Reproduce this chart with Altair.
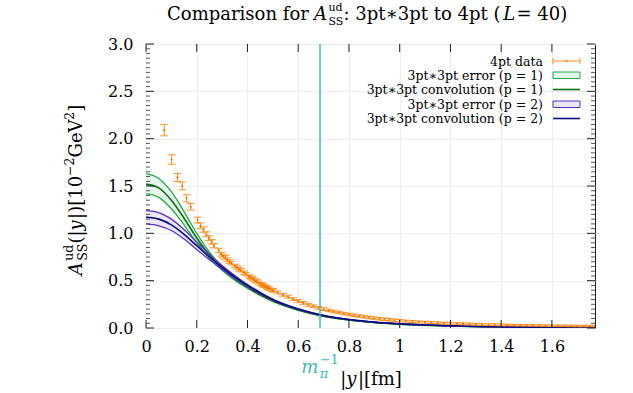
import altair as alt
import pandas as pd

FONT = "DejaVu Serif"

# 4pt data: separation |y| [fm], value [10^-2 GeV^2], statistical error
pt_x = [0.072, 0.101, 0.124, 0.143, 0.160, 0.176, 0.203, 0.215, 0.227, 0.238,
        0.248, 0.259, 0.268, 0.287, 0.296, 0.304, 0.313, 0.321, 0.329, 0.336,
        0.351, 0.359, 0.366, 0.373, 0.386, 0.393, 0.406, 0.412, 0.418, 0.424,
        0.430, 0.436, 0.442, 0.454, 0.459, 0.465, 0.470, 0.476, 0.481, 0.486,
        0.497, 0.502,
        0.52, 0.54, 0.56, 0.58, 0.60, 0.62, 0.64, 0.66, 0.68, 0.70,
        0.72, 0.74, 0.76, 0.78, 0.80, 0.82, 0.84, 0.86, 0.88, 0.90,
        0.92, 0.94, 0.96, 0.98, 1.00,
        1.025, 1.05, 1.075, 1.10, 1.125, 1.15, 1.175, 1.20, 1.225, 1.25,
        1.275, 1.30, 1.325, 1.35, 1.375, 1.40,
        1.425, 1.45, 1.475, 1.50, 1.525, 1.55, 1.575, 1.60, 1.625, 1.65,
        1.675, 1.70, 1.725, 1.75, 1.775]
pt_y = [2.09, 1.78, 1.59, 1.50, 1.37, 1.28, 1.14, 1.08, 1.04, 0.99,
        0.95, 0.91, 0.87, 0.82, 0.78, 0.76, 0.745, 0.72, 0.70, 0.685,
        0.655, 0.64, 0.62, 0.61, 0.585, 0.57, 0.545, 0.535, 0.525, 0.515,
        0.50, 0.495, 0.48, 0.465, 0.455, 0.445, 0.44, 0.43, 0.42, 0.415,
        0.40, 0.395,
        0.375, 0.35, 0.33, 0.305, 0.285, 0.265, 0.245, 0.23, 0.212, 0.20,
        0.186, 0.175, 0.164, 0.153, 0.143, 0.134, 0.126, 0.118, 0.111, 0.104,
        0.098, 0.092, 0.087, 0.082, 0.078,
        0.073, 0.069, 0.065, 0.061, 0.058, 0.055, 0.052, 0.049, 0.047, 0.044,
        0.042, 0.040, 0.038, 0.036, 0.035, 0.033,
        0.032, 0.030, 0.029, 0.028, 0.027, 0.026, 0.025, 0.024, 0.023, 0.023,
        0.022, 0.021, 0.021, 0.020, 0.020]
pt_err = [0.06, 0.05, 0.042, 0.04, 0.038, 0.035, 0.03, 0.03, 0.028, 0.026,
          0.025, 0.024, 0.023, 0.022, 0.021, 0.02, 0.02, 0.02, 0.019, 0.019,
          0.018, 0.018, 0.018, 0.017, 0.017, 0.017, 0.017, 0.016, 0.016, 0.016,
          0.016, 0.016, 0.016, 0.016, 0.016, 0.016, 0.016, 0.016, 0.016, 0.016,
          0.016, 0.016,
          0.015, 0.015, 0.015, 0.015, 0.015, 0.015, 0.015, 0.015, 0.015, 0.015,
          0.013, 0.013, 0.013, 0.013, 0.013, 0.013, 0.013, 0.013, 0.013, 0.013,
          0.013, 0.013, 0.013, 0.013, 0.013,
          0.010, 0.010, 0.010, 0.010, 0.010, 0.010, 0.010, 0.010, 0.010, 0.010,
          0.010, 0.010, 0.010, 0.010, 0.010, 0.010,
          0.008, 0.008, 0.008, 0.008, 0.008, 0.008, 0.008, 0.008, 0.008, 0.008,
          0.008, 0.008, 0.008, 0.008, 0.008]

# 3pt*3pt convolution: p = 1 and p = 2 fits (lower, central, upper)
curve_x = [0.0, 0.05, 0.10, 0.15, 0.20, 0.25, 0.30, 0.35, 0.40, 0.45, 0.50,
           0.60, 0.70, 0.80, 0.90, 1.00, 1.10, 1.20, 1.30, 1.40, 1.50, 1.60,
           1.70, 1.77]
p1_lo = [1.42, 1.38, 1.26, 1.09, 0.90, 0.74, 0.61, 0.505, 0.42, 0.343, 0.28,
         0.187, 0.123, 0.084, 0.057, 0.040, 0.029, 0.021, 0.015, 0.011, 0.008,
         0.006, 0.005, 0.004]
p1_mid = [1.52, 1.48, 1.35, 1.16, 0.95, 0.77, 0.63, 0.52, 0.43, 0.35, 0.285,
          0.19, 0.125, 0.085, 0.058, 0.041, 0.030, 0.022, 0.016, 0.012, 0.009,
          0.007, 0.005, 0.004]
p1_hi = [1.63, 1.58, 1.44, 1.23, 1.00, 0.80, 0.65, 0.535, 0.44, 0.357, 0.29,
         0.193, 0.127, 0.086, 0.059, 0.042, 0.031, 0.023, 0.017, 0.012, 0.009,
         0.007, 0.005, 0.004]
p2_lo = [1.10, 1.08, 1.03, 0.94, 0.83, 0.72, 0.62, 0.525, 0.44, 0.362, 0.295,
         0.197, 0.130, 0.089, 0.061, 0.043, 0.031, 0.022, 0.016, 0.011, 0.008,
         0.006, 0.005, 0.004]
p2_mid = [1.17, 1.15, 1.09, 0.99, 0.87, 0.75, 0.64, 0.54, 0.45, 0.37, 0.30,
          0.20, 0.132, 0.09, 0.062, 0.044, 0.032, 0.023, 0.017, 0.012, 0.009,
          0.007, 0.005, 0.004]
p2_hi = [1.24, 1.22, 1.15, 1.04, 0.91, 0.78, 0.66, 0.555, 0.46, 0.378, 0.305,
         0.203, 0.134, 0.091, 0.063, 0.045, 0.033, 0.024, 0.017, 0.012, 0.009,
         0.007, 0.005, 0.004]

m_pi_inv = 0.686  # inverse pion mass in fm

x_ticks = [0, 0.2, 0.4, 0.6, 0.8, 1, 1.2, 1.4, 1.6]
y_ticks = [0.0, 0.5, 1.0, 1.5, 2.0, 2.5, 3.0]
y_minor = [round(0.05 * i, 2) for i in range(61) if i % 10]

X_MAX, Y_MAX = 1.77, 3.0
W, H = 449, 284
LEFT, TOP = 146, 44

ORANGE = "#ff8c1a"
ORANGE_DOT = "#f07800"
GREEN_FILL = "#e5f5e9"
GREEN_EDGE = "#22aa48"
GREEN_MID = "#0f6e12"
BLUE_FILL = "#ebe6fa"
BLUE_EDGE = "#5534c4"
BLUE_MID = "#0c0c80"
CYAN = "#3cbcbc"

xs = alt.Scale(domain=[0, X_MAX], nice=False, zero=False)
ys = alt.Scale(domain=[0, Y_MAX], nice=False, zero=False)
xaxis = alt.Axis(values=x_ticks, format="~g", title=None, domain=False, ticks=False,
                 grid=True, gridColor="#ededed", labelFont=FONT, labelFontSize=16,
                 labelColor="black", labelPadding=10, labelOverlap=False, labelFlush=False)
yaxis = alt.Axis(values=y_ticks, format=".1f", title=None, domain=False, ticks=False,
                 grid=True, gridColor="#ededed", labelFont=FONT, labelFontSize=16,
                 labelColor="black", labelPadding=13, labelOverlap=False, labelFlush=False)


def X(field):
    return alt.X(field, type="quantitative", scale=xs, axis=xaxis)


def Y(field):
    return alt.Y(field, type="quantitative", scale=ys, axis=yaxis)


ONE = pd.DataFrame({"k": [0]})

# approximate advance widths (per 1000 em) of DejaVu Serif, for mixed-style text
ROMAN_W = {" ": 318, "(": 390, ")": 390, "[": 390, "]": 390, "|": 337, ".": 318,
           ":": 337, "=": 838, "−": 838, "∗": 838, "C": 731, "A": 722, "G": 777,
           "V": 722, "S": 686, "L": 654, "a": 598, "c": 564, "d": 640, "e": 592,
           "f": 370, "i": 320, "l": 320, "m": 948, "n": 643, "o": 602, "p": 640,
           "r": 479, "s": 514, "t": 402, "u": 643, "v": 564, "y": 564}
ITALIC_W = {"A": 722, "L": 654, "y": 564, "p": 640, "m": 948, "π": 600}
ITALIC_GAP = 0.08  # italic correction, in em


def text_width(s, size, italic=False):
    table = ITALIC_W if italic else ROMAN_W
    w = sum(table.get(c, ROMAN_W.get(c, 636)) for c in s) * size / 1000.0
    return w + (ITALIC_GAP * size if italic else 0.0)


def piece(t, size, italic=False, shift=0, advance=True):
    return dict(t=t, size=size, it=italic, shift=shift, adv=advance)


def rich(pieces, x, y, anchor="left", color="black", vertical=False):
    """Lay out text pieces (with sub/superscripts) starting at pixel (x, y)."""
    widths = [text_width(p["t"], p["size"], p["it"]) for p in pieces]
    total, slot = 0.0, 0.0
    for p, w in zip(pieces, widths):
        slot = max(slot, w)
        if p["adv"]:
            total += slot
            slot = 0.0
    pos = -{"left": 0.0, "center": total / 2, "right": total}[anchor]
    slot = 0.0
    out = []
    for p, w in zip(pieces, widths):
        if vertical:
            enc = dict(x=alt.value(x + p["shift"]), y=alt.value(y - pos))
        else:
            enc = dict(x=alt.value(x + pos), y=alt.value(y + p["shift"]))
        mark = alt.Chart(ONE).mark_text(
            text=p["t"], font=FONT, fontSize=p["size"],
            fontStyle="italic" if p["it"] else "normal",
            align="left", baseline="alphabetic", color=color,
            angle=270 if vertical else 0)
        out.append(mark.encode(**enc))
        slot = max(slot, w)
        if p["adv"]:
            pos += slot
            slot = 0.0
    return out


layers = []

# --- convolution bands and curves ---
cdf = pd.DataFrame(dict(x=curve_x, p1_lo=p1_lo, p1_mid=p1_mid, p1_hi=p1_hi,
                        p2_lo=p2_lo, p2_mid=p2_mid, p2_hi=p2_hi))
base = alt.Chart(cdf)
fits = [("p1_lo", "p1_mid", "p1_hi", GREEN_FILL, GREEN_EDGE, GREEN_MID),
        ("p2_lo", "p2_mid", "p2_hi", BLUE_FILL, BLUE_EDGE, BLUE_MID)]
for lo, mid, hi, fill, edge, central in fits:
    layers.append(base.mark_area(color=fill, interpolate="monotone", clip=True)
                  .encode(x=X("x"), y=Y(lo), y2=alt.Y2(hi)))
for lo, mid, hi, fill, edge, central in fits:
    for f in (lo, hi):
        layers.append(base.mark_line(color=edge, strokeWidth=1.3, interpolate="monotone", clip=True)
                      .encode(x=X("x"), y=Y(f)))
    layers.append(base.mark_line(color=central, strokeWidth=1.6, interpolate="monotone", clip=True)
                  .encode(x=X("x"), y=Y(mid)))

# --- 4pt data with error bars ---
pdf = pd.DataFrame(dict(x=pt_x, y=pt_y, err=pt_err))
pts = alt.Chart(pdf).transform_calculate(lo="datum.y - datum.err", hi="datum.y + datum.err")
layers.append(pts.mark_rule(color=ORANGE, strokeWidth=1, clip=True)
              .encode(x=X("x"), y=Y("lo:Q"), y2=alt.Y2("hi:Q")))
for f in ("lo:Q", "hi:Q"):
    layers.append(pts.mark_tick(color=ORANGE, orient="horizontal", size=8, thickness=1,
                                opacity=0.9, clip=True)
                  .encode(x=X("x"), y=Y(f)))
layers.append(pts.mark_circle(color=ORANGE_DOT, size=5, opacity=1, clip=True)
              .encode(x=X("x"), y=Y("y")))

# --- inverse pion mass marker ---
layers.append(alt.Chart(pd.DataFrame({"x": [m_pi_inv]}))
              .mark_rule(color=CYAN, strokeWidth=1.5).encode(x=X("x")))

# --- inward ticks on all four sides ---
xt = alt.Chart(pd.DataFrame({"v": x_ticks}))
layers.append(xt.mark_rule(color="#222").encode(x=X("v"), y=alt.value(H), y2=alt.value(H - 8)))
layers.append(xt.mark_rule(color="#222").encode(x=X("v"), y=alt.value(0), y2=alt.value(8)))
yt = alt.Chart(pd.DataFrame({"v": y_ticks}))
layers.append(yt.mark_rule(color="#222").encode(y=Y("v"), x=alt.value(0), x2=alt.value(8)))
layers.append(yt.mark_rule(color="#222").encode(y=Y("v"), x=alt.value(W), x2=alt.value(W - 8)))
ym = alt.Chart(pd.DataFrame({"v": y_minor}))
layers.append(ym.mark_rule(color="#555").encode(y=Y("v"), x=alt.value(0), x2=alt.value(4)))
layers.append(ym.mark_rule(color="#555").encode(y=Y("v"), x=alt.value(W), x2=alt.value(W - 4)))

# --- legend (labels right-aligned, samples on the right) ---
LEG_TEXT_X = 543 - LEFT
S0, S1 = 553 - LEFT, 580 - LEFT
rows = [61 - TOP, 75 - TOP, 89.5 - TOP, 104 - TOP, 118.5 - TOP]
labels = ["4pt data",
          "3pt∗3pt error (p = 1)",
          "3pt∗3pt convolution (p = 1)",
          "3pt∗3pt error (p = 2)",
          "3pt∗3pt convolution (p = 2)"]
leg = alt.Chart(ONE)
for r, lab in zip(rows, labels):
    layers.append(leg.mark_text(text=lab, font=FONT, fontSize=12.5, align="right",
                                baseline="alphabetic", color="black")
                  .encode(x=alt.value(LEG_TEXT_X), y=alt.value(r + 4.5)))

r0 = rows[0]
layers.append(leg.mark_rule(color=ORANGE).encode(x=alt.value(S0), x2=alt.value(S1), y=alt.value(r0)))
for sx in (S0, S1):
    layers.append(leg.mark_rule(color=ORANGE).encode(x=alt.value(sx), y=alt.value(r0 - 3), y2=alt.value(r0 + 3)))
layers.append(leg.mark_circle(color=ORANGE_DOT, size=5, opacity=1)
              .encode(x=alt.value((S0 + S1) / 2), y=alt.value(r0)))
for r, fill, edge in [(rows[1], GREEN_FILL, GREEN_EDGE), (rows[3], BLUE_FILL, BLUE_EDGE)]:
    layers.append(leg.mark_rect(fill=fill, stroke=edge, strokeWidth=1)
                  .encode(x=alt.value(S0), x2=alt.value(S1), y=alt.value(r - 3), y2=alt.value(r + 3.5)))
for r, col in [(rows[2], GREEN_MID), (rows[4], BLUE_MID)]:
    layers.append(leg.mark_rule(color=col, strokeWidth=1.6)
                  .encode(x=alt.value(S0), x2=alt.value(S1), y=alt.value(r)))

# --- title ---
layers += rich([piece("Comparison for ", 18), piece("A", 18, True),
                piece("ud", 11, shift=-9, advance=False), piece("SS", 11, shift=5),
                piece(": 3pt∗3pt to 4pt (", 18), piece("L", 18, True), piece(" = 40)", 18)],
               370 - LEFT, 20 - TOP, anchor="center")

# --- axis titles ---
layers += rich([piece("A", 18, True), piece("ud", 12.5, shift=-9, advance=False),
                piece("SS", 12.5, shift=5), piece("(|", 18), piece("y", 18, True),
                piece("|)[10", 18), piece("−2", 12.5, shift=-8), piece("GeV", 18),
                piece("2", 12.5, shift=-8), piece("]", 18)],
               82 - LEFT, 190 - TOP, anchor="center", vertical=True)
layers += rich([piece("|", 18), piece("y", 18, True), piece("|[fm]", 18)],
               371 - LEFT, 385 - TOP, anchor="center")
layers += rich([piece("m", 18, True), piece("−1", 13, shift=-9, advance=False),
                piece("π", 13, True, shift=5)],
               m_pi_inv / X_MAX * W, 373 - TOP, anchor="center", color=CYAN)

chart = alt.layer(*layers).properties(
    width=W, height=H,
    autosize=alt.AutoSizeParams(type="none"),
    padding={"left": LEFT, "top": TOP, "right": 633 - LEFT - W, "bottom": 393 - TOP - H},
    background="white",
).configure_view(stroke="#222", strokeWidth=1)

chart.save("out.html", embed_options={"renderer": "svg", "actions": False})
